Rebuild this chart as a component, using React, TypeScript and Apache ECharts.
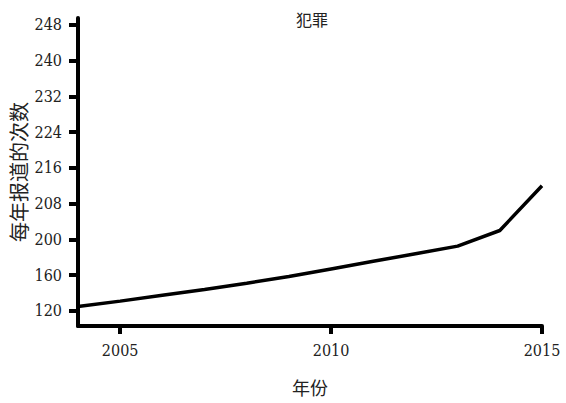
import React, { useEffect, useRef } from "react";
import * as echarts from "echarts";

const years = [2004, 2005, 2006, 2007, 2008, 2009, 2010, 2011, 2012, 2013, 2014, 2015];
const reports = [125, 131, 137.5, 144, 151, 158.5, 167, 175.5, 184, 192.5, 202, 212];
const yTickLabels = [120, 160, 200, 208, 216, 224, 232, 240, 248];
const xTickLabels = [2005, 2010, 2015];

const CJK_FONT = "Noto Sans CJK SC";
const NUM_FONT = "DejaVu Serif Condensed, DejaVu Serif";

// piecewise mapping of a value onto the equally spaced tick positions
function toIndex(v: number): number {
  const t = yTickLabels;
  if (v <= t[0]) return (v - t[0]) / (t[1] - t[0]);
  for (let i = 0; i < t.length - 1; i++) {
    if (v <= t[i + 1]) return i + (v - t[i]) / (t[i + 1] - t[i]);
  }
  const n = t.length - 1;
  return n + (v - t[n]) / (t[n] - t[n - 1]);
}

export default function App() {
  const ref = useRef<HTMLDivElement>(null);
  useEffect(() => {
    document.body.style.margin = "0";
    const chart = echarts.init(ref.current!, null, { renderer: "svg" });
    chart.setOption({
      animation: false,
      backgroundColor: "#ffffff",
      title: {
        text: "犯罪",
        left: 307,
        top: 6,
        textAlign: "center",
        textStyle: { fontFamily: CJK_FONT, fontSize: 16, fontWeight: "normal", color: "#222" },
      },
      grid: {
        left: 78,
        right: 24,
        top: 18,
        bottom: 77,
        containLabel: false,
        outerBoundsMode: "none",
      },
      xAxis: {
        type: "value",
        min: 2004,
        max: 2015,
        name: "年份",
        nameLocation: "middle",
        nameGap: 52,
        nameTextStyle: { fontFamily: CJK_FONT, fontSize: 18, color: "#222" },
        splitLine: { show: false },
        axisLine: { onZero: false, lineStyle: { color: "#000", width: 4 } },
        axisTick: { customValues: xTickLabels, length: 8, lineStyle: { color: "#000", width: 4 } },
        axisLabel: {
          customValues: xTickLabels,
          formatter: (v: number) => String(v),
          margin: 16,
          fontFamily: NUM_FONT,
          fontSize: 16,
          color: "#222",
        },
      },
      yAxis: {
        type: "value",
        min: -0.42,
        max: 8.19,
        name: "每年报道的次数",
        nameLocation: "middle",
        nameRotate: 90,
        nameGap: 50,
        nameMoveOverlap: false,
        nameTextStyle: { fontFamily: CJK_FONT, fontSize: 20, color: "#222" },
        splitLine: { show: false },
        axisLine: { onZero: false, lineStyle: { color: "#000", width: 4 } },
        axisTick: {
          customValues: yTickLabels.map((_, i) => i),
          length: 9,
          lineStyle: { color: "#000", width: 4 },
        },
        axisLabel: {
          customValues: yTickLabels.map((_, i) => i),
          formatter: (v: number) => String(yTickLabels[Math.round(v)]),
          margin: 16,
          fontFamily: NUM_FONT,
          fontSize: 16,
          color: "#222",
        },
      },
      series: [
        {
          type: "line",
          data: years.map((y, i) => [y, toIndex(reports[i])]),
          showSymbol: false,
          symbol: "none",
          lineStyle: { color: "#000", width: 3.5 },
        },
      ],
    });
    return () => chart.dispose();
  }, []);
  return (
    <div
      ref={ref}
      style={{ position: "absolute", left: 0, top: 0, width: 566, height: 403 }}
    />
  );
}
